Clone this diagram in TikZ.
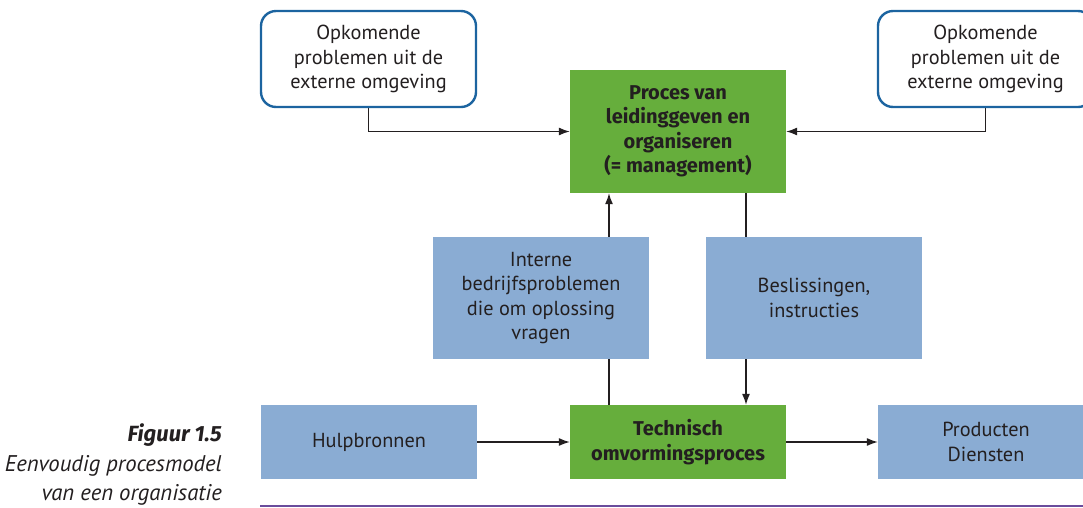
\documentclass[tikz,border=0pt]{standalone}
\usepackage{fontspec}
\setmainfont{PT Sans}
\newfontfamily\headfont{Fira Sans}
\usetikzlibrary{arrows.meta,backgrounds}
\definecolor{procgreen}{HTML}{66AE3C}
\definecolor{flowblue}{HTML}{8AACD3}
\definecolor{edgeblue}{HTML}{1C64A0}
\definecolor{rulepurple}{HTML}{6A4C9C}
\definecolor{ink}{HTML}{231F20}
\tikzset{
  x=1pt, y=-1pt,
  every node/.style={text=ink, font=\fontsize{20.3}{24.5}\selectfont, align=center, inner sep=0pt},
  extbox/.style={draw=edgeblue, line width=2.4pt, rounded corners=15pt, fill=white,
    minimum width=215pt, minimum height=96pt},
  infobox/.style={fill=flowblue, minimum width=216pt},
  procbox/.style={fill=procgreen, minimum width=216pt,
    font=\fontsize{20}{24.5}\selectfont\headfont\bfseries},
  flow/.style={draw=ink, line width=1.2pt, -{Latex[length=11pt,width=8pt]}},
  captext/.style={anchor=base east, font=\fontsize{22.7}{24}\selectfont\itshape},
}
\begin{document}
\begin{tikzpicture}
\useasboundingbox (0,0) rectangle (1083,507);
\clip (0,0) rectangle (1083,507);

% external problem boxes
\node[extbox] (ext1) at (368.5,59) {Opkomende\\problemen uit de\\externe omgeving};
\node[extbox] (ext2) at (985.5,59) {Opkomende\\problemen uit de\\externe omgeving};

% management process
\node[procbox, minimum height=123pt] (mgmt) at (678,131.5)
  {Proces van\\leidinggeven en\\organiseren\\(= management)};

% information flows
\node[infobox, minimum height=122pt] (intern) at (541,298)
  {Interne\\bedrijfsproblemen\\die om oplossing\\vragen};
\node[infobox, minimum height=122pt] (besl) at (814,298)
  {Beslissingen,\\instructies};

% bottom row
\node[infobox, minimum height=74pt] (hulp) at (369,442) {Hulpbronnen};
\node[procbox, minimum height=74pt] (tech) at (678,442) {Technisch\\omvormingsproces};
\node[infobox, minimum height=74pt] (prod) at (986,442) {Producten\\Diensten};

% connectors behind the boxes
\begin{pgfonlayer}{background}
  \draw[flow] (ext1.south) |- (mgmt.west);
  \draw[flow] (ext2.south) |- (mgmt.east);
  \draw[flow] ([xshift=-69pt]tech.north) -- ([xshift=-69pt]mgmt.south);
  \draw[flow] ([xshift=68pt]mgmt.south) -- ([xshift=68pt]tech.north);
\end{pgfonlayer}
\draw[flow] (hulp.east) -- (tech.west);
\draw[flow] (tech.east) -- (prod.west);

% bottom rule
\coordinate (ruleL) at (260,506);
\coordinate (ruleR) at (1083,506);
\draw[rulepurple, line width=2.6pt] (ruleL) -- (ruleR);

% caption
\node[anchor=base east, font=\fontsize{22}{24}\selectfont\headfont\bfseries\itshape] (fig) at (222,441) {Figuur 1.5};
\node[captext] (cap1) at (222,471) {Eenvoudig procesmodel};
\node[captext] (cap2) at (222,500) {van een organisatie};
\end{tikzpicture}
\end{document}
